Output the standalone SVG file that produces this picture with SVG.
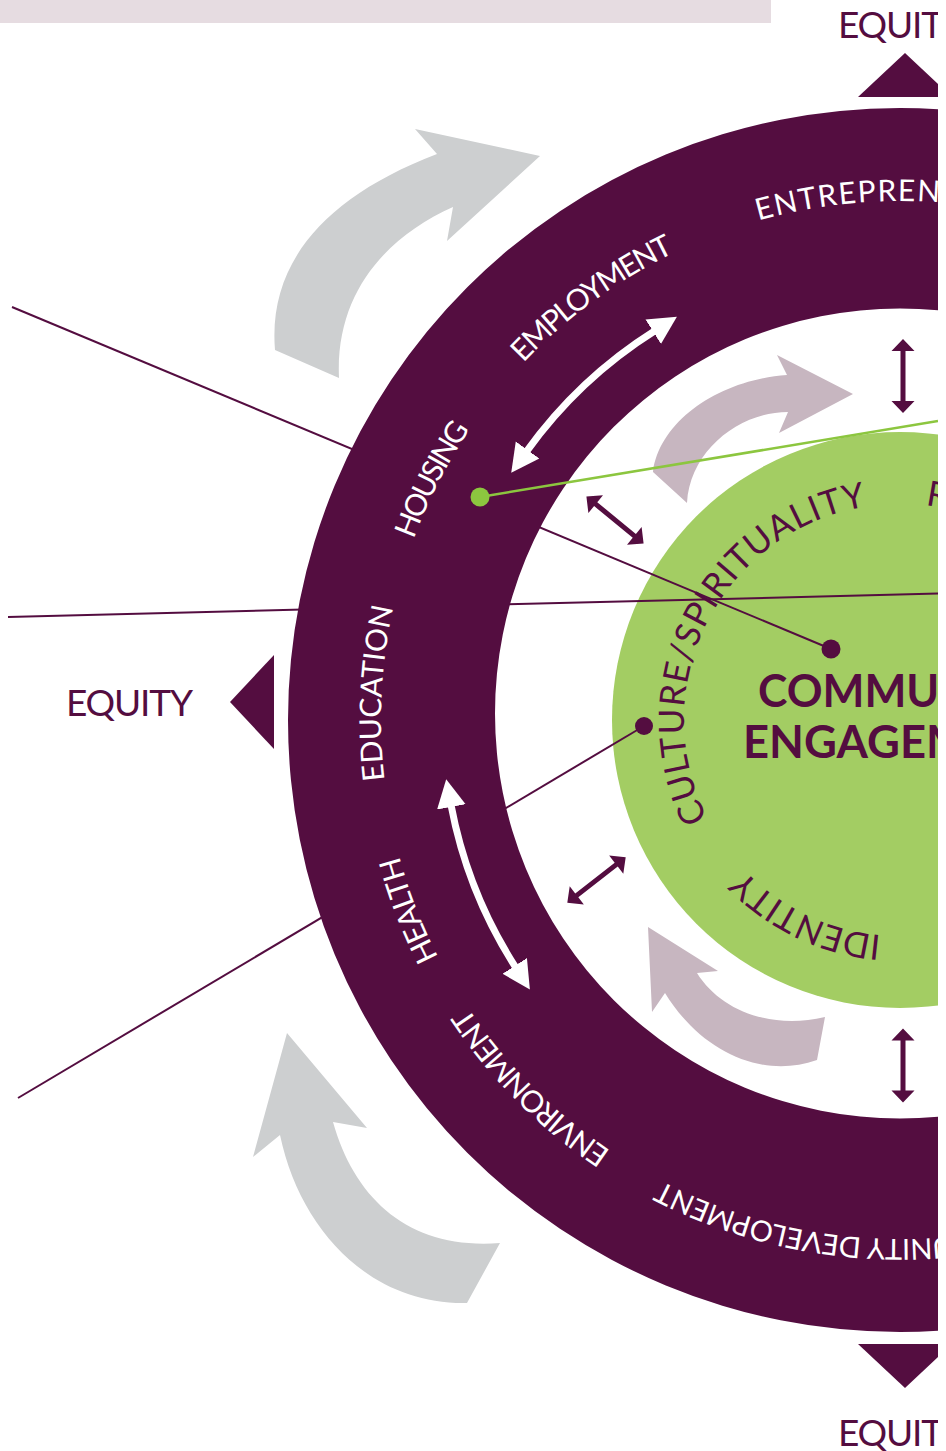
<svg xmlns="http://www.w3.org/2000/svg" width="946" height="1451" viewBox="0 0 946 1451">
<defs>
<style>
.ringtxt{font-family:Lato,'Open Sans','DejaVu Sans',sans-serif;font-size:30px;fill:#ffffff;}
.greentxt{font-family:Lato,'Open Sans','DejaVu Sans',sans-serif;font-size:35px;fill:#540d40;}
.equity{font-family:Lato,'Open Sans','DejaVu Sans',sans-serif;font-size:37px;fill:#540d40;}
.core{font-family:Lato,'Open Sans','DejaVu Sans',sans-serif;font-size:46px;font-weight:bold;fill:#540d40;}
.conn{stroke:#540d40;stroke-width:2;fill:none;}
.gray{fill:#cdcfd0;}
.mauve{fill:#c7b6c0;}
.purple{fill:#540d40;}
.warrow{fill:none;stroke:#ffffff;stroke-width:7;marker-start:url(#wh);marker-end:url(#wh);}
</style>
<clipPath id="crop"><rect x="0" y="0" width="938" height="1451"/></clipPath>
<path id="ringPath" d="M1419,720 A519,519 0 1 1 381,720 A519,519 0 1 1 1419,720"/>
<path id="greenPath" d="M1116,720 A216,216 0 1 1 684,720 A216,216 0 1 1 1116,720"/>
<marker id="wh" markerUnits="userSpaceOnUse" markerWidth="32" markerHeight="32" viewBox="0 -16 32 32" refX="2" refY="0" orient="auto-start-reverse">
<path d="M0,-14.5 L28,0 L0,14.5 Z" fill="#ffffff"/>
</marker>
<path id="dbl" d="M0,-37 L11.5,-25 L2.5,-25 L2.5,25 L11.5,25 L0,37 L-11.5,25 L-2.5,25 L-2.5,-25 L-11.5,-25 Z" fill="#540d40"/>
</defs>
<rect x="0" y="0" width="946" height="1451" fill="#ffffff"/>
<g clip-path="url(#crop)">
<rect id="topbar" x="0" y="0" width="771" height="23" fill="#e6dce1"/>

<g id="gray-arrows">
<path class="gray" d="M275,350 C268,265 322,198 437,154 L415,129 L540,156 L447,241 L453,207 C390,235 335,290 339,378 Z"/>
<path class="gray" d="M287,1033 L367,1128 L333,1122 C355,1200 410,1250 500,1243 L467,1303 C370,1305 300,1230 280,1135 L253,1157 Z"/>
</g>

<g id="equity-markers">
<g id="equity-top">
<text class="equity" x="838" y="38" textLength="127" lengthAdjust="spacing">EQUITY</text>
<polygon class="purple" points="905,53 952,97 858,97"/>
</g>
<g id="equity-left">
<text class="equity" x="66" y="716" textLength="127" lengthAdjust="spacing">EQUITY</text>
<polygon class="purple" points="230,702 274,655 274,749"/>
</g>
<g id="equity-bottom">
<polygon class="purple" points="858,1344 952,1344 905,1388"/>
<text class="equity" x="838" y="1446" textLength="127" lengthAdjust="spacing">EQUITY</text>
</g>
</g>

<g id="core">
<circle cx="900" cy="720" r="288" fill="#a3cd63"/>
<text class="greentxt"><textPath href="#greenPath" startOffset="576" textLength="408">CULTURE/SPIRITUALITY</textPath></text>
<text class="greentxt"><textPath href="#greenPath" startOffset="1043">R</textPath></text>
<text class="greentxt"><textPath href="#greenPath" startOffset="358" textLength="155">IDENTITY</textPath></text>
<text class="core" x="900" y="707" text-anchor="middle" textLength="284" lengthAdjust="spacingAndGlyphs">COMMUNITY</text>
<text class="core" x="900" y="758" text-anchor="middle" textLength="314" lengthAdjust="spacingAndGlyphs">ENGAGEMENT</text>
</g>

<g id="inner-flow">
<path class="mauve" d="M653,472 C660,420 720,380 787,375 L777,355 L853,394 L779,433 L788,412 C740,412 690,450 687,503 Z"/>
<path class="mauve" d="M648,927 L718,971 L697,973 C720,1010 770,1030 825,1017 L817,1060 C760,1080 700,1050 665,993 L652,1012 Z"/>
<use href="#dbl" transform="translate(903,376)"/>
<use href="#dbl" transform="translate(903,1065.5)"/>
<use href="#dbl" transform="translate(615,520) rotate(-50.6)"/>
<use href="#dbl" transform="translate(596.5,880) rotate(52.1)"/>
</g>

<g id="connectors">
<line class="conn" x1="12" y1="307" x2="831" y2="649"/>
<line class="conn" x1="8" y1="617" x2="938" y2="593.5"/>
<line class="conn" x1="18" y1="1098" x2="644" y2="726"/>
</g>

<g id="ring">
<path class="purple" fill-rule="evenodd" d="M288,720 A612,612 0 1 0 1512,720 A612,612 0 1 0 288,720 Z M495,713.5 A405,405 0 1 0 1305,713.5 A405,405 0 1 0 495,713.5 Z"/>
<text class="ringtxt"><textPath href="#ringPath" startOffset="2302" letter-spacing="1.5">ENTREPRENEURSHIP</textPath></text>
<text class="ringtxt"><textPath href="#ringPath" startOffset="2024" textLength="188">EMPLOYMENT</textPath></text>
<text class="ringtxt"><textPath href="#ringPath" startOffset="1815" textLength="124">HOUSING</textPath></text>
<text class="ringtxt"><textPath href="#ringPath" startOffset="1570" textLength="174">EDUCATION</textPath></text>
<text class="ringtxt"><textPath href="#ringPath" startOffset="1384" textLength="109">HEALTH</textPath></text>
<text class="ringtxt"><textPath href="#ringPath" startOffset="1122" textLength="204">ENVIRONMENT</textPath></text>
<text class="ringtxt" style="font-size:29px"><textPath href="#ringPath" startOffset="1063" text-anchor="end" letter-spacing="-0.3">COMMUNITY DEVELOPMENT</textPath></text>
<path class="warrow" d="M526.4,451.6 A460,460 0 0 1 654.9,330.7"/>
<path class="warrow" d="M515.8,967.6 A457,457 0 0 1 451.0,804.9"/>
</g>

<g id="green-link">
<line x1="480" y1="497" x2="938" y2="421" stroke="#8cc63f" stroke-width="2.5"/>
<circle cx="480" cy="497" r="9.5" fill="#8cc63f"/>
</g>
<g id="dots">
<circle cx="831" cy="649" r="9.5" fill="#540d40"/>
<circle cx="644" cy="726" r="9" fill="#540d40"/>
</g>
</g>
</svg>
